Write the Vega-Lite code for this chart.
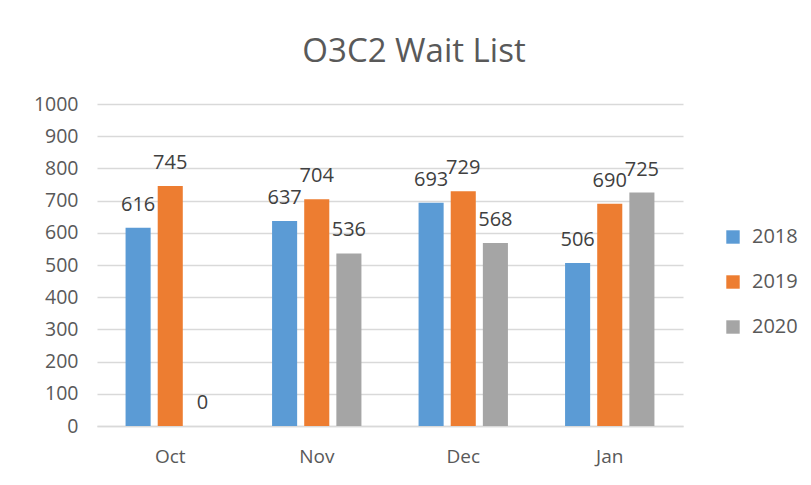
{
  "$schema": "https://vega.github.io/schema/vega-lite/v6.json",
  "autosize": "none",
  "width": 586,
  "height": 322,
  "padding": {"left": 97, "top": 104, "right": 128, "bottom": 59},
  "background": "white",
  "config": {
    "font": "Open Sans",
    "view": {"stroke": null}
  },
  "title": {
    "text": "O3C2 Wait List",
    "fontSize": 33,
    "font": "Open Sans",
    "fontWeight": "normal",
    "color": "#595959",
    "anchor": "middle",
    "frame": "group",
    "dx": 24,
    "offset": 25
  },
  "data": {
    "values": [
      {"month": "Oct", "year": "2018", "value": 616},
      {"month": "Oct", "year": "2019", "value": 745},
      {"month": "Oct", "year": "2020", "value": 0},
      {"month": "Nov", "year": "2018", "value": 637},
      {"month": "Nov", "year": "2019", "value": 704},
      {"month": "Nov", "year": "2020", "value": 536},
      {"month": "Dec", "year": "2018", "value": 693},
      {"month": "Dec", "year": "2019", "value": 729},
      {"month": "Dec", "year": "2020", "value": 568},
      {"month": "Jan", "year": "2018", "value": 506},
      {"month": "Jan", "year": "2019", "value": 690},
      {"month": "Jan", "year": "2020", "value": 725}
    ]
  },
  "encoding": {
    "x": {
      "field": "month",
      "type": "nominal",
      "sort": ["Oct", "Nov", "Dec", "Jan"],
      "scale": {"paddingInner": 0.39, "paddingOuter": 0.195},
      "axis": {
        "title": null,
        "labelAngle": 0,
        "labelFontSize": 19,
        "labelColor": "#595959",
        "labelPadding": 21,
        "ticks": false,
        "domainColor": "#D9D9D9",
        "domainWidth": 1.5,
        "grid": false
      }
    },
    "xOffset": {
      "field": "year",
      "type": "nominal",
      "scale": {"paddingInner": 0.22, "paddingOuter": 0}
    },
    "y": {
      "field": "value",
      "type": "quantitative",
      "scale": {"domain": [0, 1000]},
      "axis": {
        "title": null,
        "values": [0, 100, 200, 300, 400, 500, 600, 700, 800, 900, 1000],
        "format": "d",
        "labelOverlap": false,
        "labelFontSize": 19.5,
        "labelColor": "#595959",
        "labelPadding": 19,
        "ticks": false,
        "domain": false,
        "gridColor": "#D9D9D9",
        "gridWidth": 1.5
      }
    }
  },
  "layer": [
    {
      "mark": {"type": "bar"},
      "encoding": {
        "color": {
          "field": "year",
          "type": "nominal",
          "scale": {"domain": ["2018", "2019", "2020"], "range": ["#5B9BD5", "#ED7D31", "#A5A5A5"]},
          "legend": {
            "title": null,
            "orient": "none",
            "legendX": 626,
            "legendY": 123,
            "symbolType": "square",
            "symbolSize": 180,
            "symbolStrokeWidth": 0,
            "symbolOpacity": 1,
            "labelFontSize": 20,
            "labelColor": "#595959",
            "labelOffset": 9,
            "rowPadding": 25
          }
        }
      }
    },
    {
      "mark": {"type": "text", "baseline": "alphabetic", "dy": -17, "fontSize": 20, "color": "#404040"},
      "encoding": {
        "text": {"field": "value", "type": "quantitative"}
      }
    }
  ]
}
